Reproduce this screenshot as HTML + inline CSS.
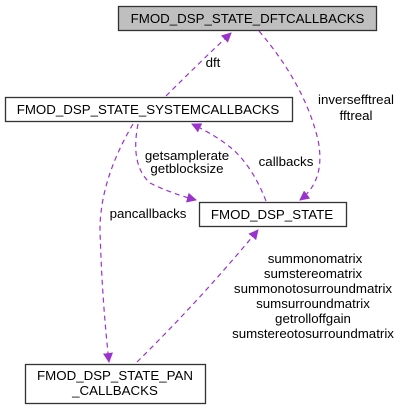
<!DOCTYPE html>
<html><head><style>
body{margin:0;background:#fff;}
svg text{font-family:"Liberation Sans",sans-serif;font-size:13.3px;fill:#000;}
</style></head><body>
<svg width="401" height="411" xmlns="http://www.w3.org/2000/svg">
<defs>
<marker id="a" markerWidth="10" markerHeight="10" refX="9" refY="5" orient="auto" markerUnits="userSpaceOnUse">
<path d="M0,0 L10,5 L0,10 z" fill="#9a32cd"/></marker>
</defs>
<g fill="none" stroke="#9a32cd" stroke-width="1.2" stroke-dasharray="5,4">
<path d="M166,96 Q200,62 231,33" marker-end="url(#a)"/>
<path d="M259,31 Q305,85 318,140 Q326,180 300,200" marker-end="url(#a)"/>
<path d="M138,124 Q130,165 150,183 Q170,193 196,200" marker-end="url(#a)"/>
<path d="M266,201 Q252,165 230,147 Q215,135 192,124" marker-end="url(#a)"/>
<path d="M133,124 Q100,180 100,230 Q102,300 109,362" marker-end="url(#a)"/>
<path d="M137,362 Q200,300 258,230" marker-end="url(#a)"/>
</g>
<rect x="118.5" y="6.5" width="258" height="24" fill="#bfbfbf" stroke="#333" stroke-width="1.3"/>
<text x="247.5" y="23" text-anchor="middle">FMOD_DSP_STATE_DFTCALLBACKS</text>
<rect x="5.5" y="97.5" width="287" height="24" fill="#fff" stroke="#333" stroke-width="1.3"/>
<text x="148" y="114" text-anchor="middle">FMOD_DSP_STATE_SYSTEMCALLBACKS</text>
<rect x="199.5" y="202.5" width="147" height="24" fill="#fff" stroke="#333" stroke-width="1.3"/>
<text x="272" y="219" text-anchor="middle">FMOD_DSP_STATE</text>
<rect x="25.5" y="364.5" width="180" height="39" fill="#fff" stroke="#333" stroke-width="1.3"/>
<text x="115" y="380" text-anchor="middle">FMOD_DSP_STATE_PAN</text>
<text x="115" y="395" text-anchor="middle">_CALLBACKS</text>
<text x="213" y="67" text-anchor="middle">dft</text>
<text x="356" y="104" text-anchor="middle">inversefftreal</text>
<text x="356" y="120" text-anchor="middle">fftreal</text>
<text x="187" y="160" text-anchor="middle">getsamplerate</text>
<text x="187" y="173" text-anchor="middle">getblocksize</text>
<text x="286" y="166" text-anchor="middle">callbacks</text>
<text x="148" y="218" text-anchor="middle">pancallbacks</text>
<g text-anchor="middle">
<text x="315" y="263">summonomatrix</text>
<text x="313" y="278">sumstereomatrix</text>
<text x="313" y="293">summonotosurroundmatrix</text>
<text x="313" y="308">sumsurroundmatrix</text>
<text x="313" y="323">getrolloffgain</text>
<text x="313" y="338">sumstereotosurroundmatrix</text>
</g>
</svg>
</body></html>
